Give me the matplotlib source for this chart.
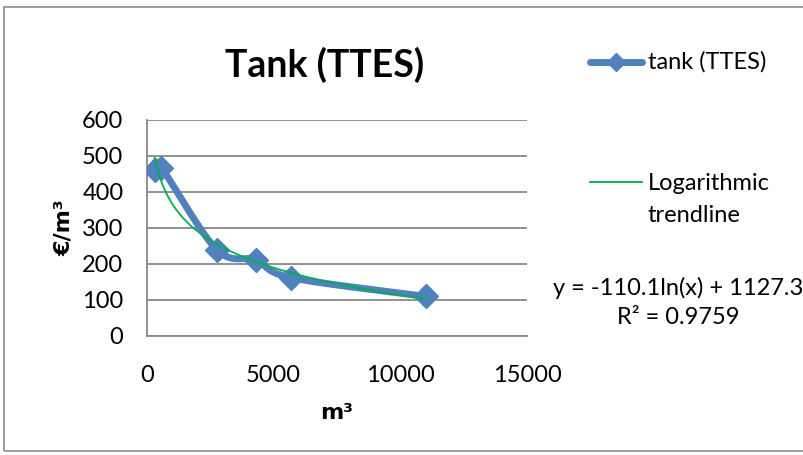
import numpy as np
import matplotlib.pyplot as plt
from matplotlib.lines import Line2D
from matplotlib.patches import Rectangle

plt.rcParams['font.family'] = ['Lato', 'DejaVu Sans']

# data
volume = [310, 560, 2750, 4300, 5680, 11000]     # m3
cost = [460, 468, 240, 211, 162, 110]            # EUR/m3
trend_a = -110.1
trend_b = 1127.3
r2 = 0.9759
xticks = [0, 5000, 10000, 15000]
yticks = [0, 100, 200, 300, 400, 500, 600]

blue = '#4F81BD'
green = '#00B050'
grid = '#898989'


def smooth(x, y, n=30):
    # catmull-rom spline through the points, like excel's smoothed line
    p = np.column_stack([x, y]).astype(float)
    p = np.vstack([p[0], p, p[-1]])
    out = []
    t = np.linspace(0, 1, n)
    for i in range(1, len(p) - 2):
        p0, p1, p2, p3 = p[i - 1], p[i], p[i + 1], p[i + 2]
        c1 = p1 + (p2 - p0) / 6
        c2 = p2 - (p3 - p1) / 6
        tt = t[:, None]
        seg = ((1 - tt)**3 * p1 + 3 * (1 - tt)**2 * tt * c1
               + 3 * (1 - tt) * tt**2 * c2 + tt**3 * p2)
        out.append(seg)
    s = np.vstack(out)
    return s[:, 0], s[:, 1]


W, H = 804, 455
fig = plt.figure(figsize=(W / 100, H / 100), dpi=100)
fig.add_artist(Rectangle((4 / W, 1 - 451 / H), 1.0, (451 - 7) / H,
                         transform=fig.transFigure, fill=False,
                         edgecolor='#8c8c8c', linewidth=1.2))

ax = fig.add_axes([147 / W, 1 - 336 / H, 380 / W, 216 / H])
ax.set_xlim(0, 15000)
ax.set_ylim(0, 600)
ax.set_xticks(xticks)
ax.set_yticks(yticks)
ax.tick_params(length=0, labelsize=17, pad=17)
ax.tick_params(axis='x', pad=21)
ax.grid(axis='y', color=grid, linewidth=1.3)
ax.set_axisbelow(True)
for s in ['top', 'right']:
    ax.spines[s].set_visible(False)
for s in ['left', 'bottom']:
    ax.spines[s].set_color(grid)
    ax.spines[s].set_linewidth(1.3)

sx, sy = smooth(volume, cost)
ax.plot(sx, sy, color=blue, linewidth=5, solid_capstyle='round', zorder=3)
ax.plot(volume, cost, linestyle='none', marker='D', markersize=12,
        color=blue, zorder=4)

tx = np.linspace(min(volume), max(volume), 300)
ax.plot(tx, trend_a * np.log(tx) + trend_b, color=green, linewidth=1.3, zorder=5)

ax.set_xlabel('m³', fontsize=16, fontweight='bold', labelpad=12,
              family=['DejaVu Sans'])
ax.set_ylabel('€/m³', fontsize=16, fontweight='bold', labelpad=6,
              family=['DejaVu Sans'])

fig.text(325 / W, 1 - 65 / H, 'Tank (TTES)', fontsize=27, fontweight='bold',
         ha='center', va='center')

# legend
fig.add_artist(Line2D([590 / W, 642 / W], [1 - 62 / H, 1 - 62 / H],
                      transform=fig.transFigure, color=blue, linewidth=5,
                      solid_capstyle='round'))
fig.add_artist(Line2D([616 / W], [1 - 62 / H], transform=fig.transFigure,
                      color=blue, marker='D', markersize=9, linestyle='none'))
fig.text(648 / W, 1 - 62 / H, 'tank (TTES)', fontsize=17, va='center')
fig.add_artist(Line2D([590 / W, 642 / W], [1 - 182 / H, 1 - 182 / H],
                      transform=fig.transFigure, color=green, linewidth=1.3))
fig.text(648 / W, 1 - 183 / H, 'Logarithmic', fontsize=17, va='center')
fig.text(648 / W, 1 - 216 / H, 'trendline', fontsize=17, va='center')
fig.text(678 / W, 1 - 288 / H, f'y = {trend_a}ln(x) + {trend_b}',
         fontsize=17, ha='center', va='center')
fig.text(678 / W, 1 - 318 / H, f'R² = {r2}',
         fontsize=17, ha='center', va='center')

fig.savefig('out.png', dpi=100)
